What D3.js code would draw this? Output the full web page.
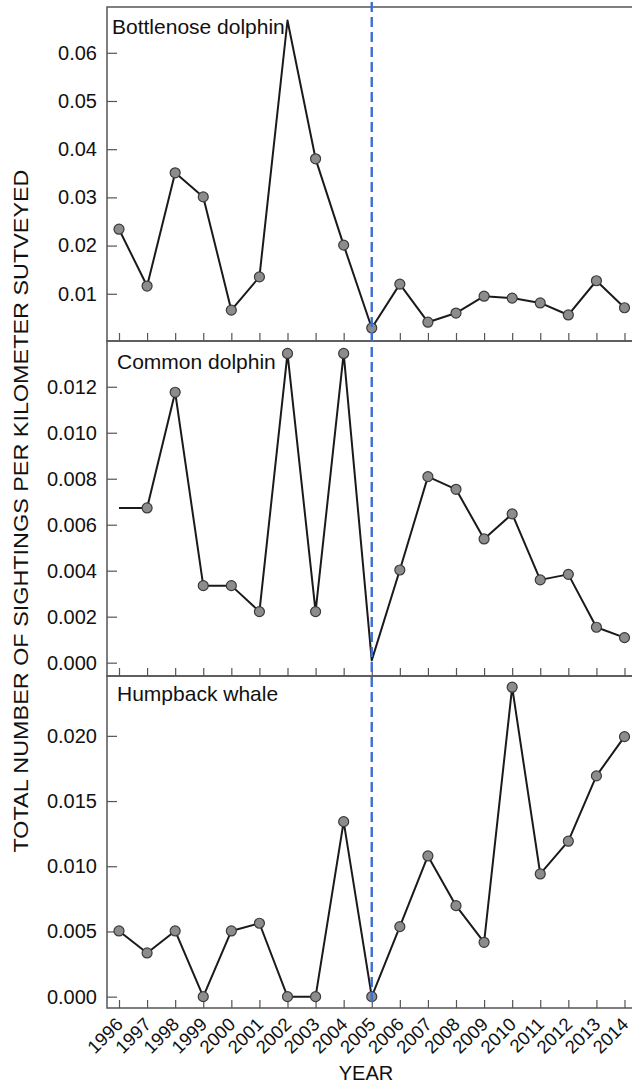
<!DOCTYPE html>
<html>
<head>
<meta charset="utf-8">
<script src="https://cdn.jsdelivr.net/npm/d3@7"></script>
<style>
  body { margin: 0; background: #fff; }
  svg { display: block; font-family: "Liberation Sans", Arial, Helvetica, sans-serif; }
</style>
</head>
<body>
<div id="chart"></div>
<script>
// survey years on the x axis
const years = [1996, 1997, 1998, 1999, 2000, 2001, 2002, 2003, 2004, 2005,
               2006, 2007, 2008, 2009, 2010, 2011, 2012, 2013, 2014]

// sightings per km
const bottlenose = [0.0234, 0.0116, 0.0351, 0.0301, 0.0066, 0.0135, 0.0667, 0.0380, 0.0201, 0.0029,
                    0.0120, 0.0041, 0.0060, 0.0095, 0.0091, 0.0081, 0.0056, 0.0127, 0.0071]
const common = [0.00673, 0.00673, 0.01176, 0.00335, 0.00335, 0.00222, 0.01345, 0.00222, 0.01345, 0.0001,
                0.00403, 0.00809, 0.00754, 0.00538, 0.00647, 0.00360, 0.00384, 0.00154, 0.00109]
const humpback = [0.00504, 0.00335, 0.00504, 0, 0.00504, 0.00563, 0, 0, 0.01342, 0,
                  0.00537, 0.01079, 0.00698, 0.00417, 0.02373, 0.00941, 0.01192, 0.01693, 0.01994]

// years drawn without a marker in the original
const bottlenoseNoMarker = [2002]
const commonNoMarker = [1996, 2005]
const humpbackNoMarker = []

const bottlenoseTicks = [0.01, 0.02, 0.03, 0.04, 0.05, 0.06]
const commonTicks = [0, 0.002, 0.004, 0.006, 0.008, 0.010, 0.012]
const humpbackTicks = [0, 0.005, 0.010, 0.015, 0.020]

const markerYear = 2005

const W = 632, H = 1084
const LEFT = 107, RIGHT = 636
const FONT = "\"Liberation Sans\", Arial, sans-serif"

const svg = d3.select("#chart").append("svg")
	.attr("width", W)
	.attr("height", H)

const x = d3.scaleLinear()
	.domain([1996, 2014])
	.range([119, 624.5])

const panels = [
	{ name: "Bottlenose dolphin", values: bottlenose, noMarker: bottlenoseNoMarker, ticks: bottlenoseTicks,
	  fmt: d3.format(".2f"), top: 7, bottom: 341, domain: [0.0002, 0.0695], lx: 112, ly: 34 },
	{ name: "Common dolphin", values: common, noMarker: commonNoMarker, ticks: commonTicks,
	  fmt: d3.format(".3f"), top: 341, bottom: 676, domain: [-0.00058, 0.01399], lx: 117, ly: 369 },
	{ name: "Humpback whale", values: humpback, noMarker: humpbackNoMarker, ticks: humpbackTicks,
	  fmt: d3.format(".3f"), top: 676, bottom: 1008, domain: [-0.00087, 0.02459], lx: 117, ly: 701 }
]

panels.forEach((p, pi) => {
	const y = d3.scaleLinear().domain(p.domain).range([p.bottom, p.top])
	const g = svg.append("g")

	// frame
	g.append("rect")
		.attr("x", LEFT).attr("y", p.top)
		.attr("width", RIGHT - LEFT).attr("height", p.bottom - p.top)
		.attr("fill", "none").attr("stroke", "#555").attr("stroke-width", 1.5)

	// y axis, ticks pointing inward
	const yAxis = g.append("g")
		.attr("transform", `translate(${LEFT},0)`)
		.call(d3.axisLeft(y).tickValues(p.ticks).tickFormat(p.fmt)
			.tickSizeInner(-10).tickSizeOuter(0).tickPadding(10))
	yAxis.select(".domain").remove()
	yAxis.selectAll("line").attr("stroke", "#555").attr("stroke-width", 1.2)
	yAxis.selectAll("text").attr("font-size", 20).attr("fill", "#111")
		.attr("font-family", FONT)

	// x ticks along the bottom of each panel
	const xAxis = g.append("g")
		.attr("transform", `translate(0,${p.bottom})`)
		.call(d3.axisBottom(x).tickValues(years).tickFormat(d3.format("d"))
			.tickSizeInner(-8).tickSizeOuter(0).tickPadding(0))
	xAxis.select(".domain").remove()
	xAxis.selectAll("line").attr("stroke", "#555").attr("stroke-width", 1.2)
	if (pi < panels.length - 1) {
		xAxis.selectAll("text").remove()
	} else {
		xAxis.selectAll("text")
			.attr("font-size", 18.5)
			.attr("fill", "#111")
			.attr("font-family", FONT)
			.attr("text-anchor", "end")
			.attr("x", 0).attr("y", 0).attr("dy", "0.35em")
			.attr("transform", "translate(0,13) rotate(-45)")
	}

	// series line
	const pts = years.map((yr, i) => ({ yr, v: p.values[i] }))
	g.append("path")
		.datum(pts)
		.attr("fill", "none")
		.attr("stroke", "#1a1a1a")
		.attr("stroke-width", 2)
		.attr("stroke-linejoin", "round")
		.attr("d", d3.line().x(d => x(d.yr)).y(d => y(d.v)))

	g.selectAll("circle")
		.data(pts.filter(d => !p.noMarker.includes(d.yr)))
		.enter().append("circle")
			.attr("cx", d => x(d.yr))
			.attr("cy", d => y(d.v))
			.attr("r", 5)
			.attr("fill", "#8c8c8c")
			.attr("stroke", "#3a3a3a")
			.attr("stroke-width", 1.2)

	g.append("text")
		.attr("x", p.lx)
		.attr("y", p.ly)
		.attr("font-size", 21)
		.attr("fill", "#111")
		.text(p.name)
})

// change point marker
svg.append("line")
	.attr("x1", x(markerYear)).attr("x2", x(markerYear))
	.attr("y1", 2).attr("y2", 1008)
	.attr("stroke", "#3b6fd6")
	.attr("stroke-width", 2.4)
	.attr("stroke-dasharray", "10,5")

svg.append("text")
	.attr("x", 366)
	.attr("y", 1080)
	.attr("text-anchor", "middle")
	.attr("font-size", 20)
	.attr("fill", "#111")
	.text("YEAR")

svg.append("text")
	.attr("transform", "translate(28,511) rotate(-90)")
	.attr("text-anchor", "middle")
	.attr("font-size", 20)
	.attr("fill", "#111")
	.attr("textLength", 683)
	.attr("lengthAdjust", "spacingAndGlyphs")
	.text("TOTAL NUMBER OF SIGHTINGS PER KILOMETER SUTVEYED")
</script>
</body>
</html>
